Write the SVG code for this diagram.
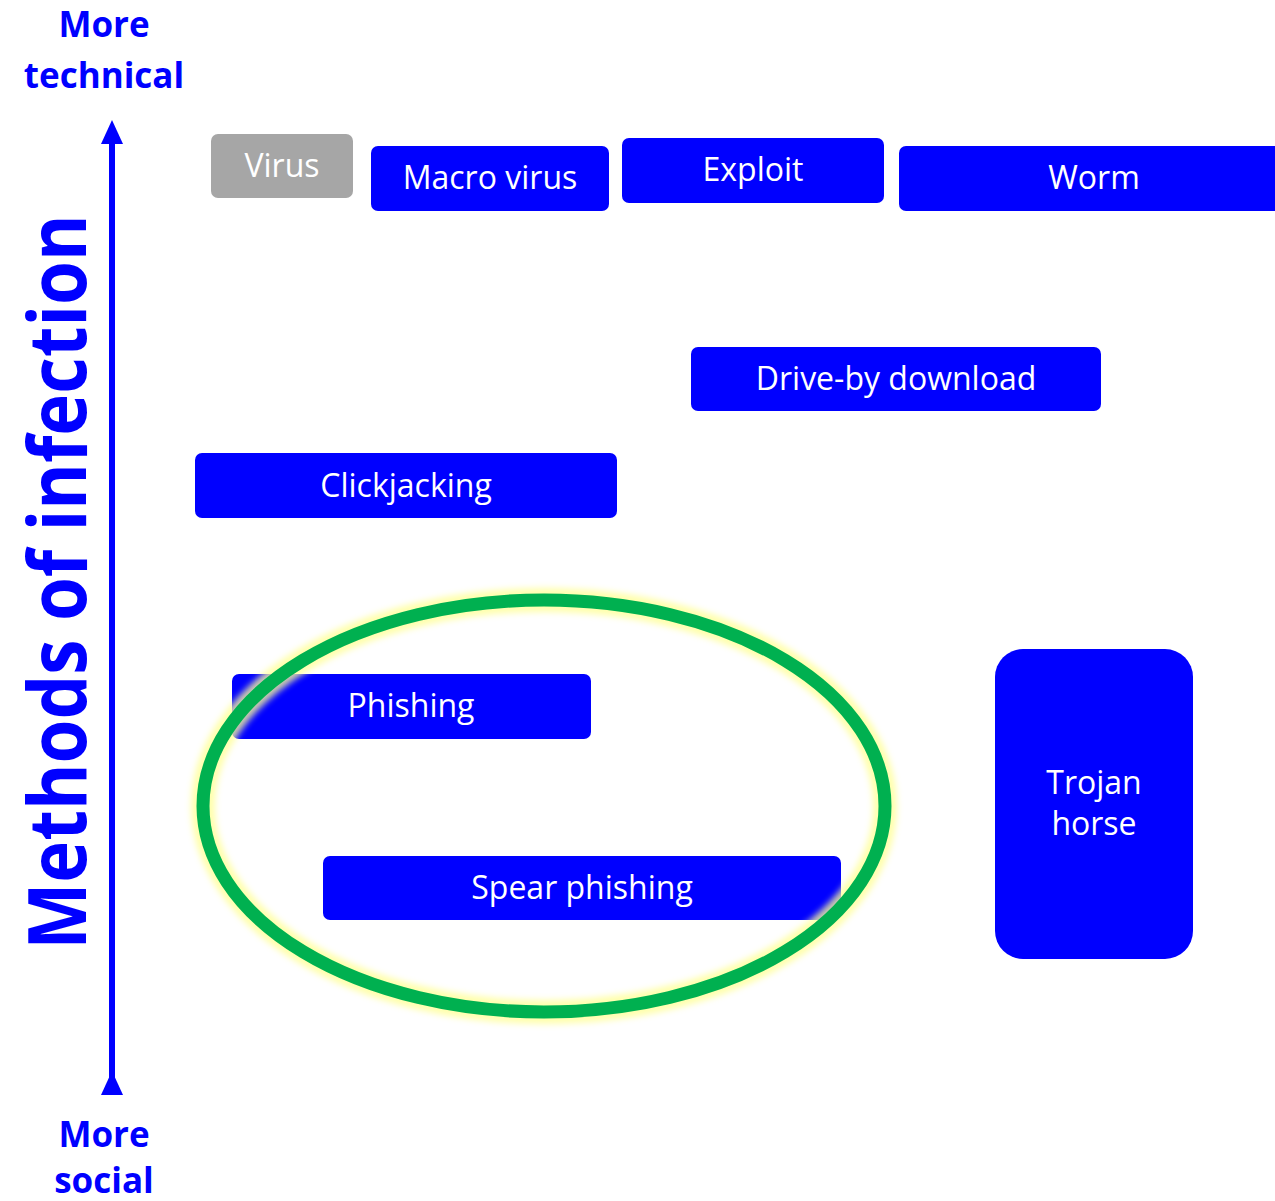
<svg xmlns="http://www.w3.org/2000/svg" width="1275" height="1201" viewBox="0 0 1275 1201">
<style>
.box{fill:#0000ff}
.gray{fill:#a6a6a6}
.lbl{font-family:"Open Sans","Noto Sans",sans-serif;font-size:32px;fill:#ffffff;text-anchor:middle}
.ax{font-family:"Open Sans","Noto Sans",sans-serif;font-weight:bold;fill:#0000ff;text-anchor:middle}
</style>
<defs>
<marker id="ah" viewBox="0 0 24 24" refX="12" refY="12" markerWidth="24" markerHeight="24" markerUnits="userSpaceOnUse" orient="auto">
<path d="M0,1 L24,12 L0,23 Z" fill="#0000ff"/>
</marker>
<filter id="glow" x="-10%" y="-10%" width="120%" height="120%"><feGaussianBlur stdDeviation="3"/></filter>
</defs>
<rect width="1275" height="1201" fill="#ffffff"/>
<g id="axis-labels">
<text class="ax" x="104" y="37" font-size="35">More</text>
<text class="ax" x="104" y="88" font-size="35">technical</text>
<text class="ax" x="104" y="1147" font-size="35">More</text>
<text class="ax" x="104" y="1193" font-size="35">social</text>
<text class="ax" font-size="80" transform="translate(86,582) rotate(-90)" textLength="735" lengthAdjust="spacingAndGlyphs">Methods of infection</text>
</g>
<g id="connectors">
<line x1="112" y1="1083" x2="112" y2="132" stroke="#0000ff" stroke-width="6" marker-end="url(#ah)" marker-start="url(#ah)"/>
</g>
<g id="virus"><rect class="gray" x="211" y="134" width="142" height="64" rx="7"/><text class="lbl" x="282" y="177" fill="#f2f2f2">Virus</text></g>
<g id="macro-virus"><rect class="box" x="371" y="146" width="238" height="65" rx="7"/><text class="lbl" x="490" y="189">Macro virus</text></g>
<g id="exploit"><rect class="box" x="622" y="138" width="262" height="65" rx="7"/><text class="lbl" x="753" y="181">Exploit</text></g>
<g id="worm"><rect class="box" x="899" y="146" width="390" height="65" rx="7"/><text class="lbl" x="1094" y="189">Worm</text></g>
<g id="drive-by"><rect class="box" x="691" y="347" width="410" height="64" rx="7"/><text class="lbl" x="896" y="390">Drive-by download</text></g>
<g id="clickjacking"><rect class="box" x="195" y="453" width="422" height="65" rx="7"/><text class="lbl" x="406" y="497">Clickjacking</text></g>
<g id="phishing"><rect class="box" x="232" y="674" width="359" height="65" rx="7"/><text class="lbl" x="411" y="717">Phishing</text></g>
<g id="spear-phishing"><rect class="box" x="323" y="856" width="518" height="64" rx="7"/><text class="lbl" x="582" y="899">Spear phishing</text></g>
<g id="trojan"><rect class="box" x="995" y="649" width="198" height="310" rx="28"/><text class="lbl" x="1094" y="794">Trojan</text><text class="lbl" x="1094" y="835">horse</text></g>
<g id="highlight">
<ellipse cx="544" cy="806" rx="341" ry="206" fill="none" stroke="#ffff99" stroke-width="24" filter="url(#glow)" opacity="0.8"/>
<ellipse cx="544" cy="806" rx="341" ry="206" fill="none" stroke="#00b050" stroke-width="13"/>
</g>
</svg>
